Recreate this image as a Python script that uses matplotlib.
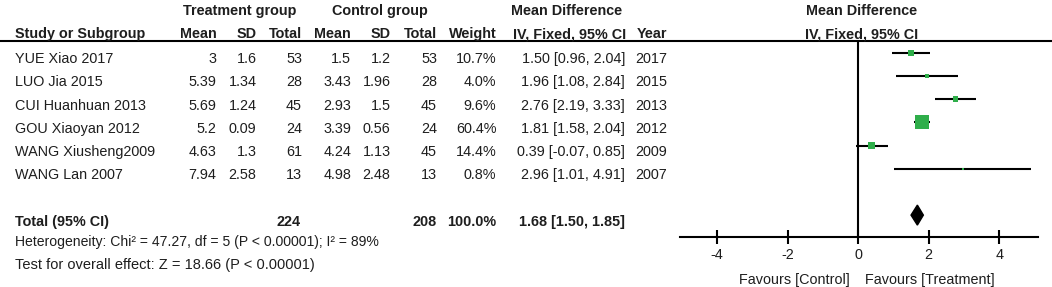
import numpy as np
import matplotlib
matplotlib.use("Agg")
import matplotlib.pyplot as plt
from matplotlib.patches import Polygon

# ---------------- data ----------------
studies = ["YUE Xiao 2017", "LUO Jia 2015", "CUI Huanhuan 2013",
           "GOU Xiaoyan 2012", "WANG Xiusheng2009", "WANG Lan 2007"]
t_mean = [3, 5.39, 5.69, 5.2, 4.63, 7.94]
t_sd = [1.6, 1.34, 1.24, 0.09, 1.3, 2.58]
t_n = [53, 28, 45, 24, 61, 13]
c_mean = [1.5, 3.43, 2.93, 3.39, 4.24, 4.98]
c_sd = [1.2, 1.96, 1.5, 0.56, 1.13, 2.48]
c_n = [53, 28, 45, 24, 45, 13]
weights = [10.7, 4.0, 9.6, 60.4, 14.4, 0.8]
md = [1.50, 1.96, 2.76, 1.81, 0.39, 2.96]
md_lo = [0.96, 1.08, 2.19, 1.58, -0.07, 1.01]
md_hi = [2.04, 2.84, 3.33, 2.04, 0.85, 4.91]
years = [2017, 2015, 2013, 2012, 2009, 2007]
total_md, total_lo, total_hi = 1.68, 1.50, 1.85
total_weight = 100.0
het_text = "Heterogeneity: Chi\u00b2 = 47.27, df = 5 (P < 0.00001); I\u00b2 = 89%"
test_text = "Test for overall effect: Z = 18.66 (P < 0.00001)"
xticks = [-4, -2, 0, 2, 4]

# ---------------- style ----------------
W, H = 1052, 287
FONT = "Liberation Sans"
FS = 10.4
TXT = "#1e1e1e"
GREEN = "#2fae4a"
plt.rcParams["font.family"] = [FONT, "DejaVu Sans"]

fig = plt.figure(figsize=(W / 100, H / 100), dpi=100)
ax0 = fig.add_axes([0, 0, 1, 1])
ax0.set_xlim(0, W)
ax0.set_ylim(H, 0)
ax0.axis("off")

row0 = 63.2     # baseline of first text row (px)
dy = 23.2       # row spacing (px)

def txt(x, y, s, ha="left", bold=False, size=FS):
    ax0.text(x, y, s, ha=ha, va="baseline", fontsize=size, color=TXT,
             fontweight="bold" if bold else "normal")

# header
txt(240, 15.2, "Treatment group", ha="center", bold=True)
txt(380, 15.2, "Control group", ha="center", bold=True)
txt(511, 15.2, "Mean Difference", bold=True)
txt(862, 15.2, "Mean Difference", ha="center", bold=True)
hb = 38.2
txt(15, hb, "Study or Subgroup", bold=True)
cols = {"tm": 216.5, "ts": 256.5, "tn": 302, "cm": 351, "cs": 390.5,
        "cn": 437, "w": 496.5, "ci": 625, "yr": 667}
txt(cols["tm"], hb, "Mean", ha="right", bold=True)
txt(cols["ts"], hb, "SD", ha="right", bold=True)
txt(cols["tn"], hb, "Total", ha="right", bold=True)
txt(cols["cm"], hb, "Mean", ha="right", bold=True)
txt(cols["cs"], hb, "SD", ha="right", bold=True)
txt(cols["cn"], hb, "Total", ha="right", bold=True)
txt(cols["w"], hb, "Weight", ha="right", bold=True)
txt(513, hb, "IV, Fixed, 95% CI", bold=True)
txt(cols["yr"], hb, "Year", ha="right", bold=True)
txt(862, hb, "IV, Fixed, 95% CI", ha="center", bold=True)
ax0.axhline(40.7, color="black", lw=1.5)

for i, s in enumerate(studies):
    y = row0 + dy * i
    txt(15, y, s)
    txt(cols["tm"], y, f"{t_mean[i]:g}", ha="right")
    txt(cols["ts"], y, f"{t_sd[i]:g}", ha="right")
    txt(cols["tn"], y, f"{t_n[i]}", ha="right")
    txt(cols["cm"], y, f"{c_mean[i]:g}", ha="right")
    txt(cols["cs"], y, f"{c_sd[i]:g}", ha="right")
    txt(cols["cn"], y, f"{c_n[i]}", ha="right")
    txt(cols["w"], y, f"{weights[i]:.1f}%", ha="right")
    txt(cols["ci"], y, f"{md[i]:.2f} [{md_lo[i]:.2f}, {md_hi[i]:.2f}]", ha="right")
    txt(cols["yr"], y, f"{years[i]}", ha="right")

ty = row0 + dy * 7
txt(15, ty, "Total (95% CI)", bold=True)
txt(300.5, ty, f"{sum(t_n)}", ha="right", bold=True)
txt(cols["cn"], ty, f"{sum(c_n)}", ha="right", bold=True)
txt(cols["w"], ty, f"{total_weight:.1f}%", ha="right", bold=True)
txt(cols["ci"], ty, f"{total_md:.2f} [{total_lo:.2f}, {total_hi:.2f}]", ha="right", bold=True)
txt(15, 246, het_text, size=10.1)
txt(15, 268.5, test_text, size=10.5)

# ---------------- forest axes ----------------
x_left, x_right = -5.05, 5.1
px_left, px_right = 680, 1038
top_px, bot_px = 40.7, 237
ax = fig.add_axes([px_left / W, 1 - bot_px / H, (px_right - px_left) / W,
                   (bot_px - top_px) / H])
ax.set_xlim(x_left, x_right)
r_top = (top_px - 52.7) / dy
r_bot = (bot_px - 52.7) / dy
ax.set_ylim(r_bot, r_top)
ax.patch.set_alpha(0)
for sp in ["top", "left", "right"]:
    ax.spines[sp].set_visible(False)
ax.spines["bottom"].set_linewidth(1.5)
ax.set_yticks([])
ax.set_xticks(xticks)
ax.set_xticklabels([f"{t:g}" for t in xticks])
ax.tick_params(axis="x", direction="inout", length=9.5, width=1.5,
               labelsize=FS, labelcolor=TXT, pad=3)
ax.axvline(0, color="black", lw=1.5, zorder=1)

rows = np.arange(len(studies))
ax.hlines(rows, md_lo, md_hi, color="black", lw=1.5, zorder=2)
side_px = 1.8 * np.sqrt(np.array(weights))
side_px = np.maximum(side_px, 2.0)
ax.scatter(md, rows, marker="s", s=(side_px * 0.72) ** 2, color=GREEN,
           linewidths=0, zorder=3)

half_h = 10 / dy
diamond = Polygon([[total_lo, 7], [total_md, 7 - half_h], [total_hi, 7],
                   [total_md, 7 + half_h]], closed=True, color="black", zorder=3)
ax.add_patch(diamond)

ax.text(-0.25, r_bot + (284 - bot_px) / dy, "Favours [Control]", ha="right",
        va="baseline", fontsize=FS, color=TXT, clip_on=False)
ax.text(0.2, r_bot + (284 - bot_px) / dy, "Favours [Treatment]", ha="left",
        va="baseline", fontsize=FS, color=TXT, clip_on=False)

fig.savefig("out.png", dpi=100)
